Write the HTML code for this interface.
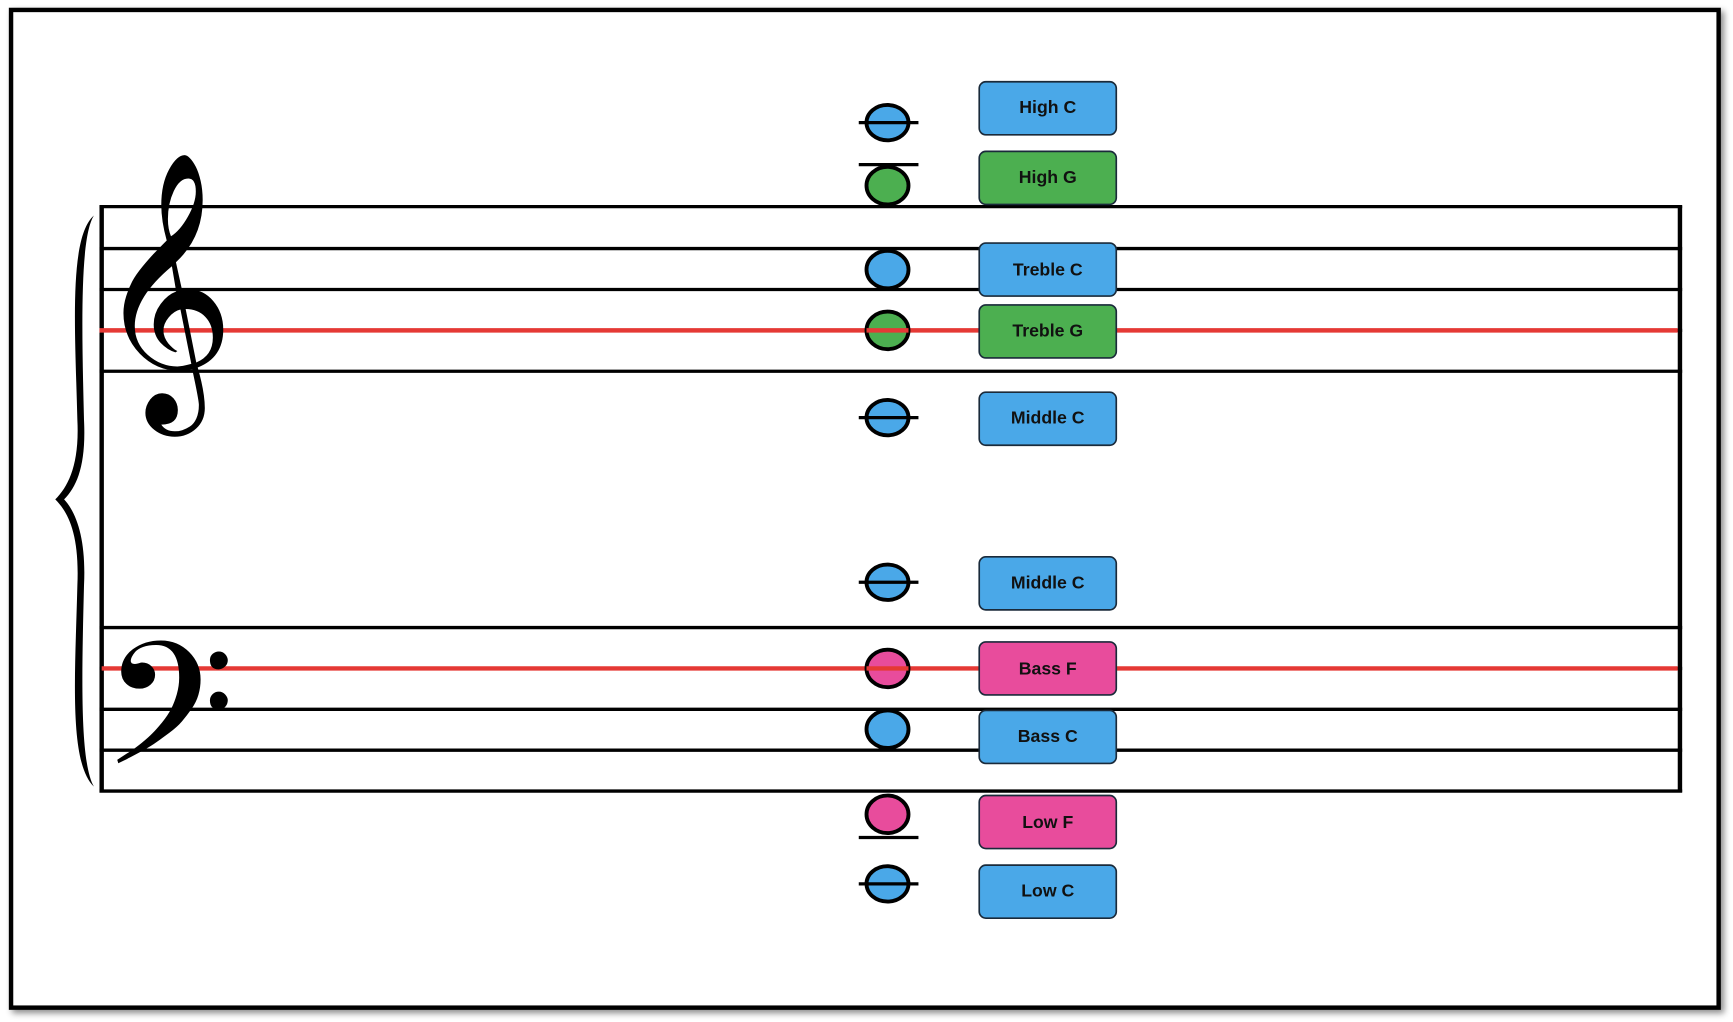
<!DOCTYPE html>
<html><head><meta charset="utf-8"><style>
html,body{margin:0;padding:0;background:#fff;width:1733px;height:1022px;overflow:hidden}
svg{display:block}
text.l{font-family:"Liberation Sans",sans-serif;font-size:16px;font-weight:bold;fill:#111;text-anchor:middle;dominant-baseline:central}
</style></head><body>
<svg width="1733" height="1022" viewBox="0 0 1568 925" preserveAspectRatio="none">
<defs><filter id="sh" x="-5%" y="-5%" width="110%" height="110%"><feDropShadow dx="3" dy="3" stdDeviation="3" flood-opacity="0.45"/></filter></defs>
<rect x="0" y="0" width="1568" height="925" fill="#fff"/>
<rect x="10" y="9" width="1545" height="903" fill="#fff" stroke="#000" stroke-width="4" filter="url(#sh)"/>
<g stroke="#000" stroke-width="3">
<line x1="90" y1="187" x2="1522" y2="187"/><line x1="90" y1="225" x2="1522" y2="225"/><line x1="90" y1="262" x2="1522" y2="262"/><line x1="90" y1="299" x2="1522" y2="299"/><line x1="90" y1="336" x2="1522" y2="336"/>
<line x1="90" y1="568" x2="1522" y2="568"/><line x1="90" y1="605" x2="1522" y2="605"/><line x1="90" y1="642" x2="1522" y2="642"/><line x1="90" y1="679" x2="1522" y2="679"/><line x1="90" y1="716" x2="1522" y2="716"/>
<line x1="92" y1="186" x2="92" y2="717" stroke-width="4"/><line x1="1520" y1="186" x2="1520" y2="717" stroke-width="4"/>
</g>
<line x1="90" y1="299" x2="1518" y2="299" stroke="#e53935" stroke-width="4"/>
<line x1="92" y1="605" x2="1518" y2="605" stroke="#e53935" stroke-width="4"/>
<path d="M85,195 C62,215 68,300 70,380 C72,420 62,440 50,452 C62,464 72,484 70,530 C68,610 62,690 85,712 C72,690 74,610 76,530 C78,490 70,465 58,452 C70,440 78,420 76,380 C74,300 72,215 85,195 Z" fill="#000"/>
<text x="86" y="333" font-family="DejaVu Sans,sans-serif" font-size="214" fill="#000">𝄞</text>
<text x="92" y="722" font-family="DejaVu Sans,sans-serif" font-size="188" fill="#000">𝄢</text>
<g stroke="#000" stroke-width="3.5">
<ellipse cx="803" cy="111" rx="19" ry="16" fill="#4aa8e8"/>
<ellipse cx="803" cy="168" rx="19" ry="17" fill="#4caf50"/>
<ellipse cx="803" cy="244" rx="19" ry="17" fill="#4aa8e8"/>
<ellipse cx="803" cy="299" rx="19" ry="17" fill="#4caf50"/>
<ellipse cx="803" cy="378" rx="19" ry="16" fill="#4aa8e8"/>
<ellipse cx="803" cy="527" rx="19" ry="16" fill="#4aa8e8"/>
<ellipse cx="803" cy="605" rx="19" ry="17" fill="#e84c9c"/>
<ellipse cx="803" cy="660" rx="19" ry="17" fill="#4aa8e8"/>
<ellipse cx="803" cy="737" rx="19" ry="17" fill="#e84c9c"/>
<ellipse cx="803" cy="800" rx="19" ry="16" fill="#4aa8e8"/>
</g>
<g stroke="#000" stroke-width="3">
<line x1="777" y1="111" x2="831" y2="111"/><line x1="777" y1="149" x2="831" y2="149"/>
<line x1="777" y1="378" x2="831" y2="378"/><line x1="777" y1="527" x2="831" y2="527"/>
<line x1="777" y1="758" x2="831" y2="758"/><line x1="777" y1="800" x2="831" y2="800"/>
<line x1="784" y1="299" x2="822" y2="299" stroke="#e53935" stroke-width="4"/>
<line x1="784" y1="605" x2="822" y2="605" stroke="#e53935" stroke-width="4"/>
</g>
<g stroke="#1a2a3a" stroke-width="1.5">
<rect x="886" y="74" width="124" height="48" rx="6" fill="#4aa8e8"/>
<rect x="886" y="137" width="124" height="48" rx="6" fill="#4caf50"/>
<rect x="886" y="220" width="124" height="48" rx="6" fill="#4aa8e8"/>
<rect x="886" y="276" width="124" height="48" rx="6" fill="#4caf50"/>
<rect x="886" y="355" width="124" height="48" rx="6" fill="#4aa8e8"/>
<rect x="886" y="504" width="124" height="48" rx="6" fill="#4aa8e8"/>
<rect x="886" y="581" width="124" height="48" rx="6" fill="#e84c9c"/>
<rect x="886" y="643" width="124" height="48" rx="6" fill="#4aa8e8"/>
<rect x="886" y="720" width="124" height="48" rx="6" fill="#e84c9c"/>
<rect x="886" y="783" width="124" height="48" rx="6" fill="#4aa8e8"/>
</g>
<text class="l" x="948" y="97">High C</text>
<text class="l" x="948" y="160">High G</text>
<text class="l" x="948" y="244">Treble C</text>
<text class="l" x="948" y="299">Treble G</text>
<text class="l" x="948" y="378">Middle C</text>
<text class="l" x="948" y="527">Middle C</text>
<text class="l" x="948" y="605">Bass F</text>
<text class="l" x="948" y="666">Bass C</text>
<text class="l" x="948" y="744">Low F</text>
<text class="l" x="948" y="806">Low C</text>
</svg>
</body></html>
